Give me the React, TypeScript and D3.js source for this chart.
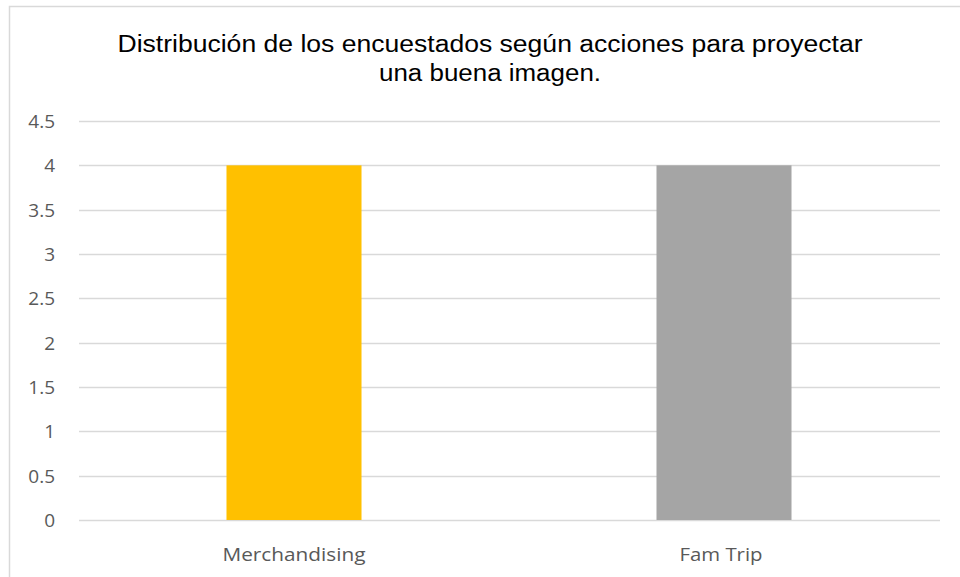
import * as d3 from 'd3';
import { useEffect, useRef } from 'react';

const categories = ['Merchandising', 'Fam Trip'];
const values = [4, 4];
const barColors = ['#FFC000', '#A5A5A5'];
const yTicks = [0, 0.5, 1, 1.5, 2, 2.5, 3, 3.5, 4, 4.5];
const titleLines = ['Distribución de los encuestados según acciones para proyectar', 'una buena imagen.'];

export default function App() {
    const ref = useRef<SVGSVGElement>(null);

    useEffect(() => {
        if (!ref.current) return;
        const svg = d3.select(ref.current);
        svg.selectAll('*').remove();

        const width = 960;
        const height = 577;
        const margin = { top: 121, right: 20, bottom: 57, left: 79 };

        // chart frame
        svg.append('rect')
            .attr('x', 9.5).attr('y', 6.5)
            .attr('width', width + 10).attr('height', height + 10)
            .attr('fill', '#fff')
            .attr('stroke', '#d9d9d9')
            .attr('stroke-width', 1.5);

        const x = d3.scaleBand()
            .domain(categories)
            .range([margin.left, width - margin.right - 1])
            .paddingInner(0.686)
            .paddingOuter(0.343);

        const y = d3.scaleLinear()
            .domain([0, 4.5])
            .range([height - margin.bottom, margin.top]);

        // gridlines
        svg.append('g')
            .selectAll('line')
            .data(yTicks)
            .enter()
            .append('line')
            .attr('x1', margin.left)
            .attr('x2', width - margin.right)
            .attr('y1', d => Math.round(y(d)) + 0.5)
            .attr('y2', d => Math.round(y(d)) + 0.5)
            .attr('stroke', '#d9d9d9')
            .attr('stroke-width', 1.3);

        // y tick labels
        svg.append('g')
            .selectAll('text')
            .data(yTicks)
            .enter()
            .append('text')
            .attr('x', 55)
            .attr('y', d => y(d))
            .attr('dy', '0.36em')
            .attr('text-anchor', 'end')
            .attr('font-family', 'Open Sans')
            .attr('font-size', 19)
            .attr('fill', '#595959')
            .text(d => String(d));

        // bars
        svg.append('g')
            .selectAll('rect')
            .data(values)
            .enter()
            .append('rect')
            .attr('x', (d, i) => x(categories[i]) as number)
            .attr('width', x.bandwidth())
            .attr('y', d => y(d))
            .attr('height', d => y(0) - y(d))
            .attr('fill', (d, i) => barColors[i]);

        // category labels
        const labelWidths = [143, 83];
        svg.append('g')
            .selectAll('text')
            .data(categories)
            .enter()
            .append('text')
            .attr('x', (d, i) => (x(d) as number) + x.bandwidth() / 2 - labelWidths[i] / 2 - (i === 1 ? 3 : 0))
            .attr('y', 561)
            .attr('font-family', 'Open Sans')
            .attr('font-size', 18)
            .attr('textLength', (d, i) => labelWidths[i])
            .attr('lengthAdjust', 'spacingAndGlyphs')
            .attr('fill', '#595959')
            .text(d => d);

        // title
        const titleWidths = [745, 222];
        svg.append('g')
            .selectAll('text')
            .data(titleLines)
            .enter()
            .append('text')
            .attr('x', (d, i) => 490 - titleWidths[i] / 2)
            .attr('y', (d, i) => 52 + i * 29)
            .attr('font-family', 'Liberation Sans, Arial')
            .attr('font-size', 23)
            .attr('textLength', (d, i) => titleWidths[i])
            .attr('lengthAdjust', 'spacingAndGlyphs')
            .attr('fill', '#000')
            .text(d => d);
    }, []);

    return (
        <svg ref={ref} width={960} height={577}
            style={{ position: 'absolute', left: 0, top: 0, background: '#fff' }} />
    );
}
